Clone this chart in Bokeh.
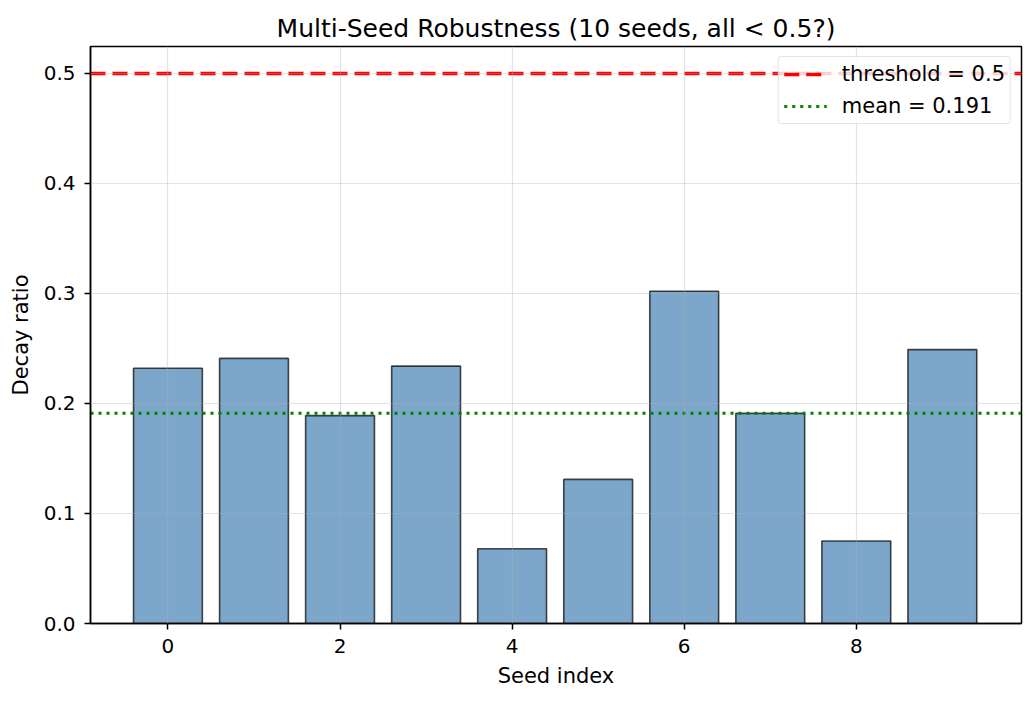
from bokeh.plotting import figure
from bokeh.models import Range1d, FixedTicker, Legend, LegendItem, CustomJSTickFormatter
from bokeh.embed import file_html
from bokeh.resources import INLINE

# Decay ratio per seed
seeds = list(range(10))
decay = [0.232, 0.241, 0.189, 0.234, 0.068, 0.131, 0.302, 0.191, 0.075, 0.249]
threshold = 0.5
mean_val = sum(decay) / len(decay)
x_ticks = [0, 2, 4, 6, 8]
y_ticks = [0, 0.1, 0.2, 0.3, 0.4, 0.5]

x_lo, x_hi = -0.9, 9.92
FONT = "DejaVu Sans"

p = figure(width=1030, height=695, output_backend="svg", toolbar_location=None,
           x_range=Range1d(x_lo, x_hi), y_range=Range1d(0, 0.5245),
           title="Multi-Seed Robustness (10 seeds, all < 0.5?)",
           min_border_left=90, min_border_right=9, min_border_top=46, min_border_bottom=72)

p.title.align = "center"
p.title.text_font = FONT
p.title.text_font_size = "25px"
p.title.text_font_style = "normal"
p.title.text_color = "black"
p.title.standoff = 7

# bars
p.vbar(x=seeds, top=decay, width=0.8, bottom=0,
       fill_color="steelblue", fill_alpha=0.7,
       line_color="black", line_alpha=0.7, line_width=1.6)

# reference lines
thr = p.line([x_lo, x_hi], [threshold, threshold], line_color="red",
             line_width=3.6, line_dash="15 7")
mn = p.line([x_lo, x_hi], [mean_val, mean_val], line_color="green",
            line_width=3, line_dash="3 5")

legend = Legend(items=[LegendItem(label="threshold = 0.5", renderers=[thr]),
                       LegendItem(label=f"mean = {mean_val:.3f}", renderers=[mn])],
                location="top_right")
legend.label_text_font = FONT
legend.label_text_font_size = "21px"
legend.label_text_color = "black"
legend.background_fill_alpha = 0.8
legend.border_line_color = "#cccccc"
legend.border_line_width = 1.5
legend.border_radius = 4
legend.glyph_width = 43
legend.label_standoff = 15
legend.spacing = 8
legend.padding = 5
legend.margin = 10
legend.label_height = 22
legend.glyph_height = 22
p.add_layout(legend)

# axes
p.xaxis.axis_label = "Seed index"
p.yaxis.axis_label = "Decay ratio"
p.xaxis.ticker = FixedTicker(ticks=x_ticks)
p.yaxis.ticker = FixedTicker(ticks=y_ticks)
p.yaxis.formatter = CustomJSTickFormatter(code="return tick.toFixed(1);")
for ax in (p.xaxis, p.yaxis):
    ax.axis_label_text_font = FONT
    ax.axis_label_text_font_size = "21px"
    ax.axis_label_text_font_style = "normal"
    ax.axis_label_text_color = "black"
    ax.major_label_text_font = FONT
    ax.major_label_text_font_size = "20px"
    ax.major_label_text_color = "black"
    ax.major_tick_in = 0
    ax.major_tick_out = 6
    ax.major_tick_line_width = 1.5
    ax.minor_tick_line_color = None
    ax.axis_line_color = "black"
    ax.axis_line_width = 1.5
    ax.major_tick_line_color = "black"
    ax.major_label_standoff = 9
    ax.axis_label_standoff = 8

p.grid.grid_line_color = "#b0b0b0"
p.grid.grid_line_alpha = 0.35
p.grid.grid_line_width = 1.2
p.grid.level = "guide"
p.outline_line_color = "black"
p.outline_line_width = 1.5
p.outline_line_alpha = 1

open("out.html", "w").write(file_html(p, INLINE))
